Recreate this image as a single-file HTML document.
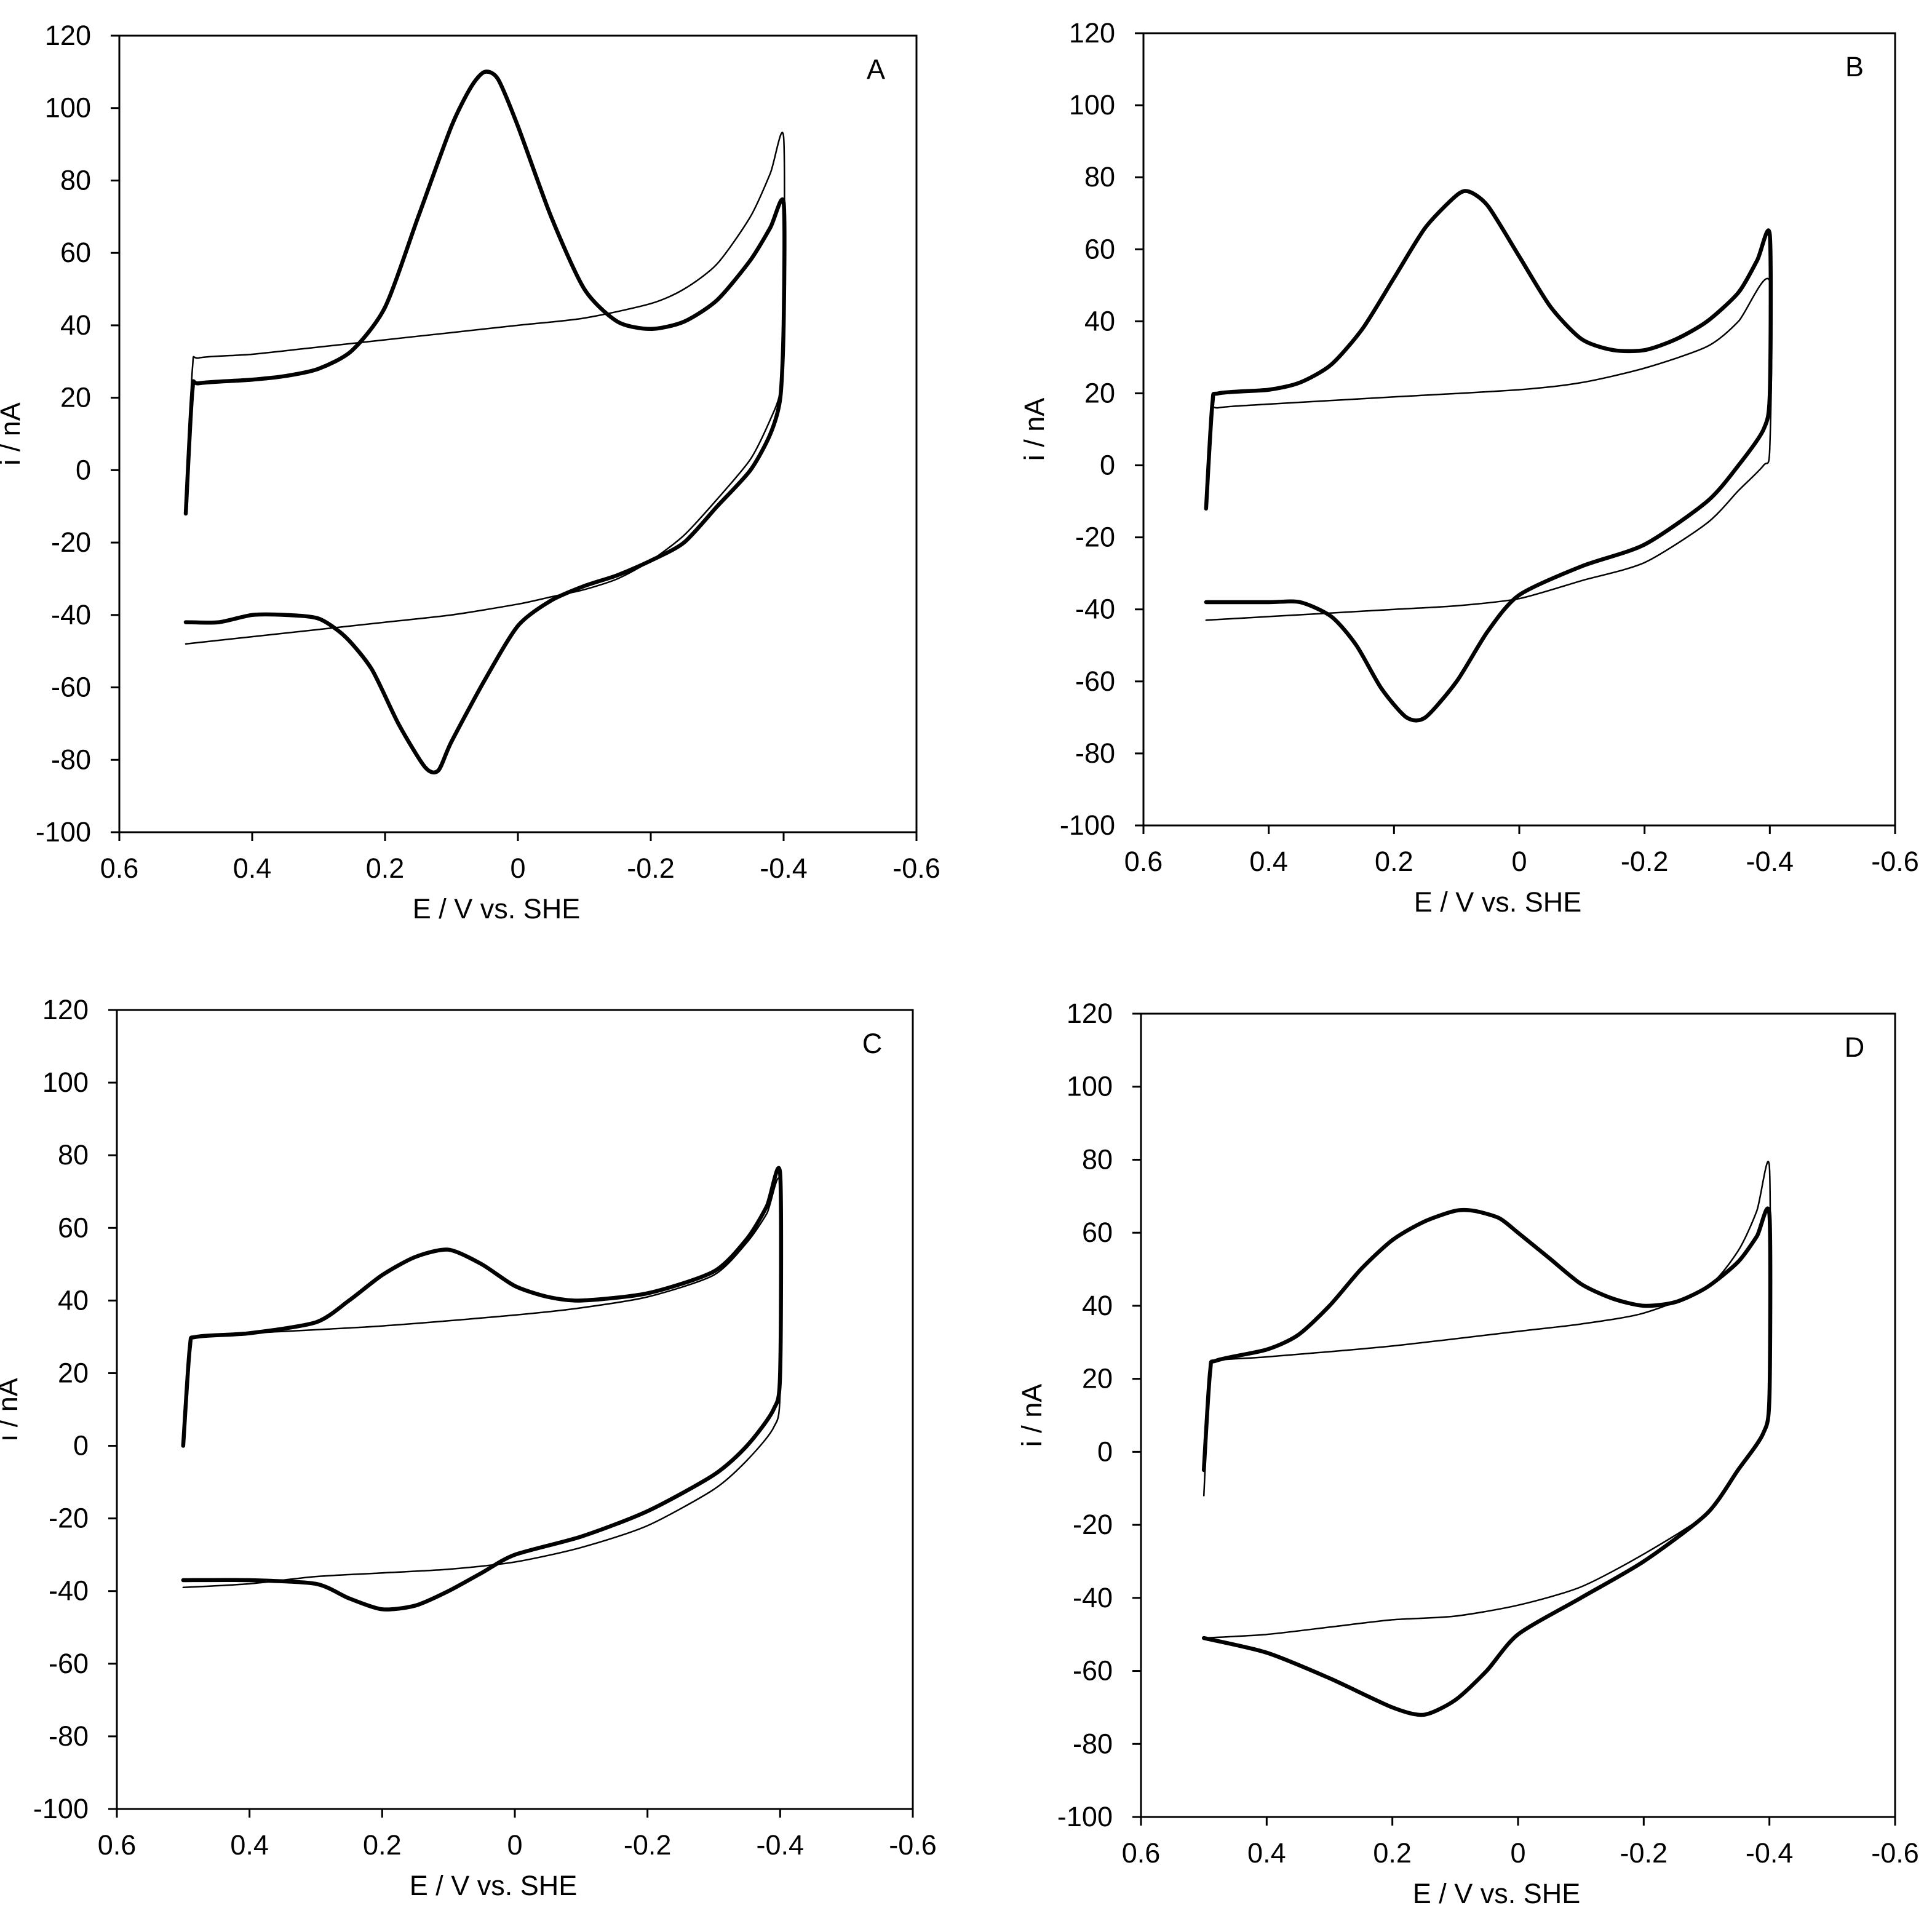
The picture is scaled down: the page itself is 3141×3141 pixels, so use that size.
<!DOCTYPE html>
<html><head><meta charset="utf-8"><style>
html,body{margin:0;padding:0;background:#fff}
svg{display:block}
text{font-family:"Liberation Sans",Arial,sans-serif;fill:#000}
</style></head><body>
<svg id="chart" width="3141" height="3141" viewBox="0 0 3141 3141" xmlns="http://www.w3.org/2000/svg"></svg>
<script>
const xTicks=[0.6,0.4,0.2,0,-0.2,-0.4,-0.6];
const xTickLabels=["0.6","0.4","0.2","0","-0.2","-0.4","-0.6"];
const yTicks=[120,100,80,60,40,20,0,-20,-40,-60,-80,-100];
const panelLetters=["A","B","C","D"];
// Panel A
const aThickE=[0.5,0.49,0.48,0.4,0.35,0.3,0.25,0.2,0.15,0.1,0.07,0.05,0.03,0,-0.05,-0.1,-0.15,-0.2,-0.25,-0.3,-0.35,-0.38,-0.4,-0.4,-0.395,-0.38,-0.35,-0.3,-0.25,-0.2,-0.15,-0.1,-0.05,0,0.05,0.1,0.12,0.14,0.18,0.22,0.26,0.3,0.35,0.4,0.45,0.5];
const aThickI=[-12,22,24,25,26,28,33,45,70,95,106,110,108,95,70,50,41,39,41,47,58,67,74,40,20,10,0,-10,-20,-25,-29,-32,-36,-43,-58,-75,-83,-82,-70,-55,-46,-41,-40,-40,-42,-42];
const aThinE=[0.5,0.49,0.48,0.4,0.3,0.2,0.1,0,-0.1,-0.2,-0.25,-0.3,-0.35,-0.38,-0.4,-0.4,-0.395,-0.38,-0.35,-0.3,-0.25,-0.2,-0.15,-0.1,-0.05,0,0.1,0.2,0.3,0.4,0.5];
const aThinI=[-12,28,31,32,34,36,38,40,42,46,50,57,70,82,92,40,22,14,3,-8,-18,-25,-30,-33,-35,-37,-40,-42,-44,-46,-48];
// Panel B
const bThickE=[0.5,0.49,0.48,0.4,0.35,0.3,0.25,0.2,0.15,0.1,0.08,0.05,0,-0.05,-0.1,-0.15,-0.2,-0.25,-0.3,-0.35,-0.38,-0.4,-0.4,-0.39,-0.35,-0.3,-0.2,-0.1,0,0.05,0.1,0.15,0.18,0.22,0.26,0.3,0.35,0.4,0.5];
const bThickI=[-12,17,20,21,23,28,38,52,66,75,76,72,58,44,35,32,32,35,40,48,57,64,20,10,0,-10,-22,-28,-36,-46,-60,-70,-70,-62,-50,-42,-38,-38,-38];
const bThinE=[0.5,0.49,0.48,0.4,0.2,0,-0.1,-0.2,-0.3,-0.35,-0.4,-0.4,-0.39,-0.35,-0.3,-0.2,-0.1,0,0.1,0.2,0.3,0.4,0.5];
const bThinI=[-12,14,16,17,19,21,23,27,33,40,51,5,0,-7,-16,-27,-32,-37,-39,-40,-41,-42,-43];
// Panel C
const cThickE=[0.5,0.49,0.48,0.4,0.3,0.25,0.2,0.15,0.1,0.05,0,-0.05,-0.1,-0.2,-0.3,-0.35,-0.38,-0.4,-0.4,-0.39,-0.35,-0.3,-0.2,-0.1,0,0.05,0.1,0.15,0.2,0.25,0.3,0.4,0.5];
const cThickI=[0,27,30,31,34,40,47,52,54,50,44,41,40,42,48,57,66,75,20,10,0,-8,-18,-25,-30,-35,-40,-44,-45,-42,-38,-37,-37];
const cThinE=[0.5,0.49,0.48,0.4,0.2,0,-0.1,-0.2,-0.3,-0.35,-0.38,-0.4,-0.4,-0.39,-0.35,-0.3,-0.2,-0.1,0,0.1,0.2,0.3,0.4,0.5];
const cThinI=[0,27,30,31,33,36,38,41,47,56,64,72,15,5,-4,-12,-22,-28,-32,-34,-35,-36,-38,-39];
// Panel D
const dThickE=[0.5,0.49,0.48,0.4,0.35,0.3,0.25,0.2,0.15,0.1,0.07,0.03,0,-0.05,-0.1,-0.15,-0.2,-0.25,-0.3,-0.35,-0.38,-0.4,-0.4,-0.39,-0.35,-0.3,-0.2,-0.1,0,0.05,0.1,0.15,0.2,0.3,0.4,0.5];
const dThickI=[-5,22,25,28,32,40,50,58,63,66,66,64,60,53,46,42,40,41,45,52,59,65,15,5,-5,-17,-30,-40,-50,-60,-68,-72,-70,-62,-55,-51];
const dThinE=[0.5,0.49,0.48,0.4,0.2,0,-0.1,-0.2,-0.3,-0.35,-0.38,-0.4,-0.4,-0.39,-0.35,-0.3,-0.2,-0.1,0,0.1,0.2,0.3,0.4,0.5];
const dThinI=[-12,22,25,26,29,33,35,38,45,55,66,78,15,5,-5,-17,-28,-37,-42,-45,-46,-48,-50,-51];

const panels=[
 {L:194,R:1490,T:58,B:1353,thick:[aThickE,aThickI],thin:[aThinE,aThinI]},
 {L:1859,R:3081,T:54,B:1342,thick:[bThickE,bThickI],thin:[bThinE,bThinI]},
 {L:190,R:1484,T:1642,B:2941,thick:[cThickE,cThickI],thin:[cThinE,cThinI]},
 {L:1855,R:3081,T:1648,B:2954,thick:[dThickE,dThickI],thin:[dThinE,dThinI]}
];
const svg=document.getElementById('chart');
const NS='http://www.w3.org/2000/svg';
function mk(tag,attrs,parent){const e=document.createElementNS(NS,tag);for(const k in attrs)e.setAttribute(k,attrs[k]);parent.appendChild(e);return e;}
function smoothPath(P){
  let d='M'+P[0][0].toFixed(1)+' '+P[0][1].toFixed(1);
  for(let i=0;i<P.length-1;i++){
    const p0=P[Math.max(0,i-1)],p1=P[i],p2=P[i+1],p3=P[Math.min(P.length-1,i+2)];
    const k=1/8;
    const c1=[p1[0]+(p2[0]-p0[0])*k,p1[1]+(p2[1]-p0[1])*k];
    const c2=[p2[0]-(p3[0]-p1[0])*k,p2[1]-(p3[1]-p1[1])*k];
    d+=' C'+c1[0].toFixed(1)+' '+c1[1].toFixed(1)+' '+c2[0].toFixed(1)+' '+c2[1].toFixed(1)+' '+p2[0].toFixed(1)+' '+p2[1].toFixed(1);
  }
  return d;
}
panels.forEach((p,idx)=>{
  const g=mk('g',{},svg);
  
  
  const xs=v=>p.L+(0.6-v)/1.2*(p.R-p.L);
  const ys=v=>p.T+(120-v)/220*(p.B-p.T);
  const box=mk('rect',{x:p.L,y:p.T,width:p.R-p.L,height:p.B-p.T,fill:'none',stroke:'#000','stroke-width':3},g);
  
  
  xTicks.forEach((t,i)=>{
    const x=xs(t);
    const tk=mk('line',{x1:x,x2:x,y1:p.B,y2:p.B+14,stroke:'#000','stroke-width':3},g);
    
    
    const lb=mk('text',{x:x,y:p.B+74,'font-size':45,'text-anchor':'middle'},g);
    lb.textContent=xTickLabels[i];
    
    
  });
  yTicks.forEach(t=>{
    const y=ys(t);
    const tk=mk('line',{x1:p.L-14,x2:p.L,y1:y,y2:y,stroke:'#000','stroke-width':3},g);
    
    
    const lb=mk('text',{x:p.L-46,y:y+15,'font-size':45,'text-anchor':'end'},g);
    lb.textContent=String(t);
    
    
  });
  const xt=mk('text',{x:(p.L+p.R)/2-35,y:p.B+140,'font-size':45,'text-anchor':'middle'},g);
  xt.textContent='E / V vs. SHE';
  
  
  const yc=(p.T+p.B)/2;
  const yt=mk('text',{x:p.L-162,y:yc,'font-size':45,'text-anchor':'middle',transform:'rotate(-90 '+(p.L-162)+' '+yc+')'},g);
  yt.textContent='i / nA';
  
  
  const lt=mk('text',{x:p.R-66,y:p.T+70,'font-size':45,'text-anchor':'middle'},g);
  lt.textContent=panelLetters[idx];
  
  
  [['thin',2.5,'cv-trace-thin'],['thick',6.5,'cv-trace-thick']].forEach(([key,w,nm])=>{
    const [E,I]=p[key];
    const pts=E.map((e,i)=>[xs(e),ys(I[i])]);
    const path=mk('path',{d:smoothPath(pts),fill:'none',stroke:'#000','stroke-width':w,'stroke-linejoin':'round','stroke-linecap':'round'},g);
    
    
  });
});
</script>
</body></html>
